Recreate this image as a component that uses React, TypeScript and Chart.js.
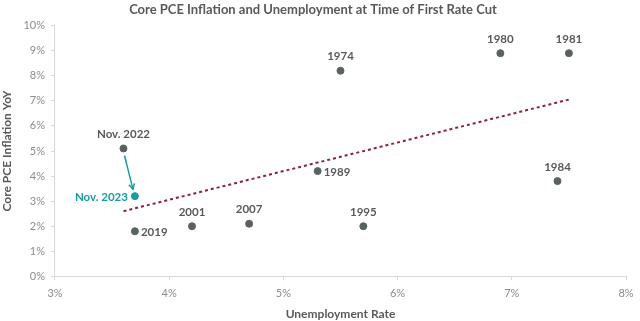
import React, { useEffect, useRef } from "react";
import { Chart, registerables } from "chart.js";
Chart.register(...registerables);

const pointLabels = ["Nov. 2022", "Nov. 2023", "2019", "2001", "2007", "1989", "1995", "1974", "1980", "1981", "1984"];
const unemploymentRate = [3.6, 3.7, 3.7, 4.2, 4.7, 5.3, 5.7, 5.5, 6.9, 7.5, 7.4];
const corePce = [5.1, 3.2, 1.8, 2.0, 2.1, 4.2, 2.0, 8.2, 8.9, 8.9, 3.8];
const trendX = [3.6, 7.5];
const trendY = [2.6, 7.05];
const highlightLabel = "Nov. 2023";
const arrowFrom = "Nov. 2022";
const arrowTo = "Nov. 2023";
const rightLabels = ["2019", "1989"];

const GRAY = "#59625f";
const TEAL = "#1a9c9c";
const TREND = "#8c1f45";
const TEXT = "#595959";
const FONT = "Lato, 'Open Sans', sans-serif";

const labelPlugin = {
  id: "pointLabels",
  afterDatasetsDraw(chart: any) {
    const ctx = chart.ctx;
    const meta = chart.getDatasetMeta(1);
    ctx.save();
    ctx.font = `bold 11.5px ${FONT}`;
    pointLabels.forEach((lab, i) => {
      const el = meta.data[i];
      if (!el) return;
      const { x, y } = el;
      ctx.fillStyle = lab === highlightLabel ? TEAL : TEXT;
      if (lab === highlightLabel) {
        ctx.textAlign = "right";
        ctx.textBaseline = "middle";
        ctx.fillText(lab, x - 7, y + 1);
      } else if (rightLabels.includes(lab)) {
        ctx.textAlign = "left";
        ctx.textBaseline = "middle";
        ctx.fillText(lab, x + 6, y + 1);
      } else {
        ctx.textAlign = "center";
        ctx.textBaseline = "middle";
        ctx.fillText(lab, x, y - 14);
      }
    });
    const a = meta.data[pointLabels.indexOf(arrowFrom)];
    const b = meta.data[pointLabels.indexOf(arrowTo)];
    if (a && b) {
      const x0 = a.x + 1, y0 = a.y + 7;
      const x1 = b.x - 2, y1 = b.y - 7;
      ctx.strokeStyle = TEAL;
      ctx.lineWidth = 1.5;
      ctx.beginPath();
      ctx.moveTo(x0, y0);
      ctx.lineTo(x1, y1);
      ctx.stroke();
      const ang = Math.atan2(y1 - y0, x1 - x0);
      const hl = 6;
      ctx.beginPath();
      ctx.moveTo(x1 - hl * Math.cos(ang - 0.5), y1 - hl * Math.sin(ang - 0.5));
      ctx.lineTo(x1, y1);
      ctx.lineTo(x1 - hl * Math.cos(ang + 0.5), y1 - hl * Math.sin(ang + 0.5));
      ctx.stroke();
    }
    ctx.restore();
  },
};

export default function App() {
  const ref = useRef<HTMLCanvasElement>(null);
  useEffect(() => {
    if (!ref.current) return;
    const chart = new Chart(ref.current, {
      type: "scatter",
      data: {
        datasets: [
          {
            type: "line",
            label: "Trend",
            data: trendX.map((x, i) => ({ x, y: trendY[i] })),
            borderColor: TREND,
            borderWidth: 2,
            borderDash: [3, 3],
            pointRadius: 0,
            fill: false,
            order: 2,
          } as any,
          {
            label: "Points",
            data: unemploymentRate.map((x, i) => ({ x, y: corePce[i] })),
            backgroundColor: pointLabels.map((l) => (l === highlightLabel ? TEAL : GRAY)),
            borderColor: pointLabels.map((l) => (l === highlightLabel ? TEAL : GRAY)),
            pointRadius: 3.5,
            pointHoverRadius: 3.5,
            order: 1,
          },
        ],
      },
      options: {
        animation: false,
        responsive: false,
        devicePixelRatio: 1,
        layout: { padding: { left: 0, right: 14, top: 0, bottom: 0 } },
        plugins: {
          legend: { display: false },
          tooltip: { enabled: false },
          title: {
            display: true,
            text: "Core PCE Inflation and Unemployment at Time of First Rate Cut",
            color: TEXT,
            font: { family: FONT, size: 13, weight: "bold" },
            padding: { top: 2, bottom: 8 },
          },
        },
        scales: {
          x: {
            type: "linear",
            min: 3,
            max: 8,
            ticks: {
              stepSize: 1,
              color: "#8c8c8c",
              font: { family: FONT, size: 11 },
              callback: (v: any) => `${v}%`,
              padding: 6,
            },
            grid: { drawOnChartArea: false, drawTicks: true, tickLength: 4, color: "#d9d9d9" },
            border: { color: "#d9d9d9" },
            title: {
              display: true,
              text: "Unemployment Rate",
              color: TEXT,
              font: { family: FONT, size: 12, weight: "bold" },
              padding: { top: 1, bottom: 0 },
            },
          },
          y: {
            min: 0,
            max: 10,
            ticks: {
              stepSize: 1,
              color: "#8c8c8c",
              font: { family: FONT, size: 11 },
              callback: (v: any) => `${v}%`,
              padding: 6,
            },
            grid: { drawOnChartArea: false, drawTicks: true, tickLength: 4, color: "#d9d9d9" },
            border: { color: "#d9d9d9" },
            title: {
              display: true,
              text: "Core PCE Inflation YoY",
              color: TEXT,
              font: { family: FONT, size: 12, weight: "bold" },
              padding: { top: 0, bottom: 3 },
            },
          },
        },
      },
      plugins: [labelPlugin],
    });
    return () => chart.destroy();
  }, []);
  return (
    <div style={{ width: 640, height: 321, background: "#fff" }}>
      <style>{`body{margin:0}`}</style>
      <canvas ref={ref} width={640} height={321} />
    </div>
  );
}
